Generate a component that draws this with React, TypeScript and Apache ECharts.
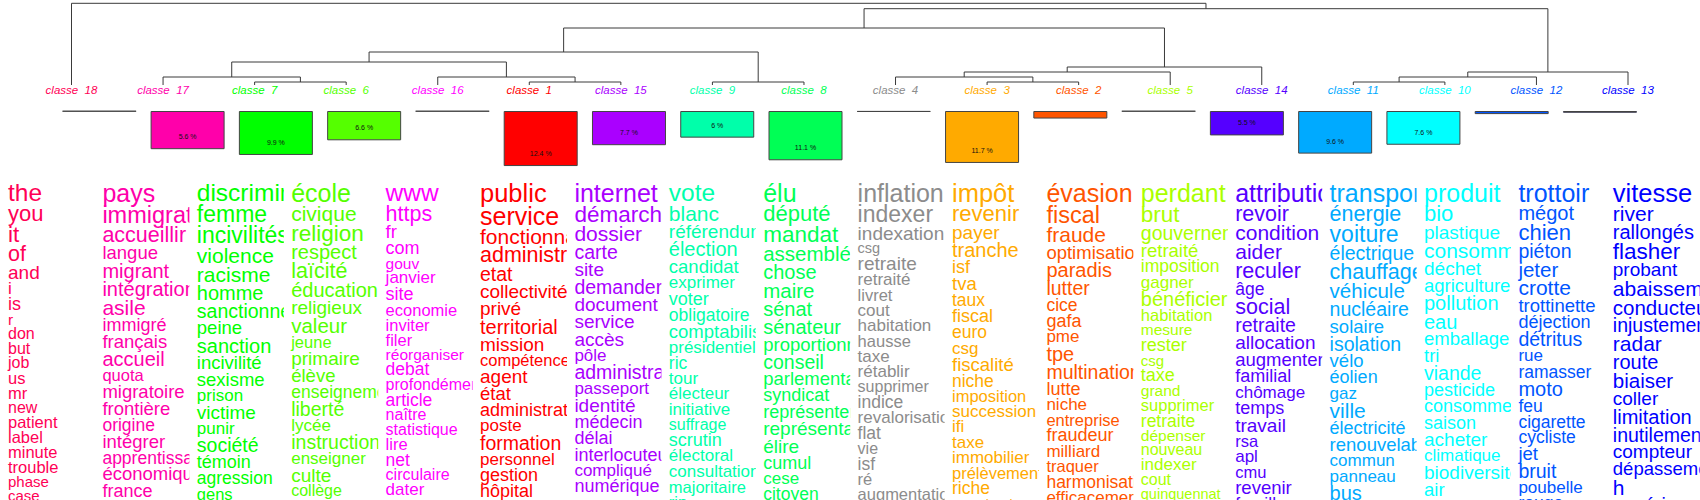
import * as echarts from 'echarts';
import { useEffect, useRef } from 'react';

// leaf order of the dendrogram (left to right)
const leafClasses = [18, 17, 7, 6, 16, 1, 15, 9, 8, 4, 3, 2, 5, 14, 11, 10, 12, 13];

// hclust-style merges: negative = class number, positive = merge step (1-based)
const mergeLeft = [-7, -17, -1, -16, 2, -9, 5, -3, -4, 9, 10, 7, -11, 13, 14, 12, -18];
const mergeRight = [-6, 1, -15, 3, 4, -8, 6, -2, 8, -5, -14, 11, -10, -12, -13, 15, 16];
const mergeHeight = [3, 8, 3, 8, 23, 3, 33, 3, 8, 13, 18, 57, 3, 8, 13, 76.3, 81.7];

// bar heights (share of segments) and the printed percentages, in leaf order
const classShare = [0.1, 8.6, 9.9, 6.6, 0.1, 12.4, 7.7, 6.0, 11.1, 0.2, 11.7, 1.7, 0.1, 5.5, 9.6, 7.6, 0.7, 0.4];
const shareLabels = ['', '5.6 %', '9.9 %', '6.6 %', '', '12.4 %', '7.7 %', '6 %', '11.1 %', '', '11.7 %', '', '', '5.5 %', '9.6 %', '7.6 %', '', ''];

// words of each class, with their weight (font size in px)
const words18 = ['the', 'you', 'it', 'of', 'and', 'i', 'is', 'r', 'don', 'but', 'job', 'us', 'mr', 'new', 'patient', 'label', 'minute', 'trouble', 'phase', 'case'];
const weight18 = [24.5, 22, 22.5, 21.5, 19, 17, 18, 15.5, 16, 16, 16, 16.5, 16.5, 16, 16.5, 16.5, 16.5, 16.5, 15, 15];
const words17 = ['pays', 'immigration', 'accueillir', 'langue', 'migrant', 'intégration', 'asile', 'immigré', 'français', 'accueil', 'quota', 'migratoire', 'frontière', 'origine', 'intégrer', 'apprentissage', 'économique', 'france'];
const weight17 = [25, 23.5, 21.5, 18.5, 20, 20, 21, 18, 18.5, 20, 16.5, 18.5, 18.5, 17.5, 18.5, 17.5, 18.5, 18];
const words7 = ['discrimination', 'femme', 'incivilités', 'violence', 'racisme', 'homme', 'sanctionner', 'peine', 'sanction', 'incivilité', 'sexisme', 'prison', 'victime', 'punir', 'société', 'témoin', 'agression', 'gens'];
const weight7 = [24.5, 23, 23, 21, 21, 20, 19.5, 18.5, 20, 18.5, 18.5, 17, 19, 17, 19.5, 18, 17.5, 16.5];
const words6 = ['école', 'civique', 'religion', 'respect', 'laïcité', 'éducation', 'religieux', 'valeur', 'jeune', 'primaire', 'élève', 'enseignement', 'liberté', 'lycée', 'instruction', 'enseigner', 'culte', 'collège'];
const weight6 = [25, 21, 22.5, 20, 21.5, 20, 19, 20.5, 16.5, 19, 18.5, 17.5, 19.5, 17, 19.5, 17, 19, 16];
const words16 = ['www', 'https', 'fr', 'com', 'gouv', 'janvier', 'site', 'economie', 'inviter', 'filer', 'réorganiser', 'debat', 'profondément', 'article', 'naître', 'statistique', 'lire', 'net', 'circulaire', 'dater'];
const weight16 = [24.5, 21.5, 18.5, 18, 15.5, 17, 18, 16.5, 16.5, 16.5, 15.5, 17.5, 16, 17.5, 16, 16, 16.5, 17.5, 16, 17];
const words1 = ['public', 'service', 'fonctionnaire', 'administration', 'etat', 'collectivité', 'privé', 'territorial', 'mission', 'compétence', 'agent', 'état', 'administratif', 'poste', 'formation', 'personnel', 'gestion', 'hôpital'];
const weight1 = [25.5, 25, 21, 21.5, 19.5, 19, 19, 20, 19, 16.5, 19, 18.5, 18, 17, 19.5, 17, 18, 18];
const words15 = ['internet', 'démarche', 'dossier', 'carte', 'site', 'demander', 'document', 'service', 'accès', 'pôle', 'administration', 'passeport', 'identité', 'médecin', 'délai', 'interlocuteur', 'compliqué', 'numérique'];
const weight15 = [25, 22.5, 21, 19.5, 19, 19.5, 19, 19, 19, 17, 19.5, 17, 19, 18, 18, 18, 17, 18];
const words9 = ['vote', 'blanc', 'référendum', 'élection', 'candidat', 'exprimer', 'voter', 'obligatoire', 'comptabiliser', 'présidentielle', 'ric', 'tour', 'électeur', 'initiative', 'suffrage', 'scrutin', 'électoral', 'consultation', 'majoritaire', 'rip'];
const weight9 = [24.5, 21, 19, 20, 18.5, 17, 18, 17.5, 18.5, 17, 17.5, 17, 17, 17, 16, 18, 17, 17, 16.5, 16.5];
const words8 = ['élu', 'député', 'mandat', 'assemblée', 'chose', 'maire', 'sénat', 'sénateur', 'proportionnelle', 'conseil', 'parlementaire', 'syndicat', 'représenter', 'représentant', 'élire', 'cumul', 'cese', 'citoyen'];
const weight8 = [25, 22, 22.5, 20.5, 20, 20.5, 20, 20, 18.5, 19.5, 18.5, 18, 18, 19, 19, 18, 17, 17.5];
const words4 = ['inflation', 'indexer', 'indexation', 'csg', 'retraite', 'retraité', 'livret', 'cout', 'habitation', 'hausse', 'taxe', 'rétablir', 'supprimer', 'indice', 'revalorisation', 'flat', 'vie', 'isf', 'ré', 'augmentation'];
const weight4 = [25, 23, 19, 14.5, 19, 17, 16.5, 17, 17, 16.5, 17, 17, 16, 17.5, 17, 17.5, 16, 17.5, 16.5, 16.5];
const words3 = ['impôt', 'revenir', 'payer', 'tranche', 'isf', 'tva', 'taux', 'fiscal', 'euro', 'csg', 'fiscalité', 'niche', 'imposition', 'succession', 'ifi', 'taxe', 'immobilier', 'prélèvement', 'riche', 'montant'];
const weight3 = [25.5, 22, 19, 20, 18, 18.5, 17.5, 18, 17.5, 17, 18.5, 17.5, 16.5, 17, 17, 17, 17, 16.5, 17.5, 17];
const words2 = ['évasion', 'fiscal', 'fraude', 'optimisation', 'paradis', 'lutter', 'cice', 'gafa', 'pme', 'tpe', 'multinationale', 'lutte', 'niche', 'entreprise', 'fraudeur', 'milliard', 'traquer', 'harmonisation', 'efficacement'];
const weight2 = [25, 23.5, 21, 18.5, 20, 19.5, 17.5, 18, 17, 20, 19.5, 18, 17, 16.5, 18, 17, 16.5, 17.5, 17];
const words5 = ['perdant', 'brut', 'gouvernement', 'retraité', 'imposition', 'gagner', 'bénéficier', 'habitation', 'mesure', 'rester', 'csg', 'taxe', 'grand', 'supprimer', 'retraite', 'dépenser', 'nouveau', 'indexer', 'cout', 'quinquennat'];
const weight5 = [25, 22.5, 19.5, 18.5, 17.5, 17, 20, 16.5, 15.5, 18, 15, 18, 15.5, 16.5, 17.5, 15.5, 16, 17, 16, 14.5];
const words14 = ['attribution', 'revoir', 'condition', 'aider', 'reculer', 'âge', 'social', 'retraite', 'allocation', 'augmenter', 'familial', 'chômage', 'temps', 'travail', 'rsa', 'apl', 'cmu', 'revenir', 'famille'];
const weight14 = [25, 21.5, 21, 21, 21.5, 17.5, 21.5, 19.5, 19, 18.5, 18, 17, 18, 19, 16.5, 17, 16.5, 18.5, 17.5];
const words11 = ['transport', 'énergie', 'voiture', 'électrique', 'chauffage', 'véhicule', 'nucléaire', 'solaire', 'isolation', 'vélo', 'éolien', 'gaz', 'ville', 'électricité', 'renouvelable', 'commun', 'panneau', 'bus'];
const weight11 = [25, 21.5, 23, 19.5, 21.5, 20.5, 19.5, 18.5, 19.5, 18.5, 18, 17, 21, 18, 18.5, 17, 17, 20];
const words10 = ['produit', 'bio', 'plastique', 'consommation', 'déchet', 'agriculture', 'pollution', 'eau', 'emballage', 'tri', 'viande', 'pesticide', 'consommer', 'saison', 'acheter', 'climatique', 'biodiversité', 'air'];
const weight10 = [25, 22, 19, 21, 19, 18.5, 20, 20, 18.5, 18.5, 19.5, 18, 18, 18, 19, 17, 19, 18.5];
const words12 = ['trottoir', 'mégot', 'chien', 'piéton', 'jeter', 'crotte', 'trottinette', 'déjection', 'détritus', 'rue', 'ramasser', 'moto', 'feu', 'cigarette', 'cycliste', 'jet', 'bruit', 'poubelle', 'rouge'];
const weight12 = [25, 20, 22, 19.5, 20.5, 21, 18.5, 18, 19.5, 17, 17.5, 20, 17.5, 17.5, 17.5, 18.5, 19.5, 17, 17.5];
const words13 = ['vitesse', 'river', 'rallongés', 'flasher', 'probant', 'abaissement', 'conducteur', 'injustement', 'radar', 'route', 'biaiser', 'coller', 'limitation', 'inutilement', 'compteur', 'dépassement', 'h', 'expérimentation'];
const weight13 = [25.5, 21, 20, 22.5, 19, 21, 20.5, 19.5, 21, 20, 20.5, 19, 20, 19.5, 19, 18.5, 21, 19.5];

const columnWords = [words18, words17, words7, words6, words16, words1, words15, words9, words8, words4, words3, words2, words5, words14, words11, words10, words12, words13];
const columnWeights = [weight18, weight17, weight7, weight6, weight16, weight1, weight15, weight9, weight8, weight4, weight3, weight2, weight5, weight14, weight11, weight10, weight12, weight13];

const classColor: Record<number, string> = {
  1: '#FF0000', 2: '#FF5500', 3: '#FFAA00', 4: '#8C8C8C', 5: '#AAFF00', 6: '#55FF00',
  7: '#00FF00', 8: '#00FF55', 9: '#00FFAA', 10: '#00FFFF', 11: '#00AAFF', 12: '#0055FF',
  13: '#0000FF', 14: '#5500FF', 15: '#AA00FF', 16: '#FF00FF', 17: '#FF00AA', 18: '#FF0055'
};

const FONT = '"Liberation Sans", Arial, Helvetica, sans-serif';
const COL_LEFT = 8;
const COL_STEP = 94.4;
const COL_CLIP = 87;
const FIRST_BASELINE = 201.5;
const LINE_FACTOR = 0.91;

function dendrogramSegments() {
  const nodeX: number[] = [];
  const nodeH: number[] = [];
  const pos = (ref: number) => (ref < 0 ? leafClasses.indexOf(-ref) : nodeX[ref - 1]);
  const hgt = (ref: number) => (ref < 0 ? 0 : nodeH[ref - 1]);
  return mergeHeight.map((h, i) => {
    const l = mergeLeft[i];
    const r = mergeRight[i];
    const seg = [pos(l), hgt(l), pos(r), hgt(r), h];
    nodeX.push((pos(l) + pos(r)) / 2);
    nodeH.push(h);
    return seg;
  });
}

function wordElements() {
  const elements: any[] = [];
  leafClasses.forEach((cls, i) => {
    const left = COL_LEFT + COL_STEP * i;
    const words = columnWords[i];
    const weights = columnWeights[i];
    let baseline = FIRST_BASELINE;
    words.forEach((w, k) => {
      if (k > 0) baseline += LINE_FACTOR * weights[k];
      elements.push({
        type: 'text',
        x: left,
        y: baseline - 0.347 * weights[k],
        z: 10 + 2 * i,
        silent: true,
        style: {
          text: w,
          fontSize: weights[k],
          fontFamily: FONT,
          fill: classColor[cls],
          align: 'left',
          verticalAlign: 'middle'
        }
      });
    });
    // white mask cuts the words at the column's right edge
    elements.push({
      type: 'rect',
      z: 11 + 2 * i,
      silent: true,
      shape: { x: left + COL_CLIP, y: 172, width: 1800, height: 340 },
      style: { fill: '#ffffff' }
    });
  });
  return elements;
}

export default function App() {
  const elRef = useRef<HTMLDivElement | null>(null);

  useEffect(() => {
    document.body.style.margin = '0';
    if (!elRef.current) return;
    const chart = echarts.init(elRef.current, undefined, { renderer: 'svg' });

    const leafLabels = leafClasses.map((c) => `classe  ${c}`);

    chart.setOption({
      animation: false,
      backgroundColor: '#ffffff',
      grid: [
        { left: 71.5, right: 72, top: 3.3, height: 81.7 },
        { left: 55.2, right: 55.9, top: 111, height: 88.8 }
      ],
      xAxis: [
        { type: 'value', gridIndex: 0, min: 0, max: 17, show: false, position: 'top' },
        {
          type: 'category',
          gridIndex: 0,
          data: leafLabels,
          boundaryGap: false,
          position: 'bottom',
          axisLine: { show: false },
          axisTick: { show: false },
          splitLine: { show: false },
          axisLabel: {
            interval: 0,
            margin: 4.5,
            verticalAlign: 'middle',
            fontSize: 11.5,
            fontStyle: 'italic',
            fontFamily: FONT,
            color: (_v: any, idx: number) => classColor[leafClasses[idx]]
          }
        },
        { type: 'category', gridIndex: 1, data: leafLabels, show: false }
      ],
      yAxis: [
        { type: 'value', gridIndex: 0, min: 0, max: 81.7, show: false },
        { type: 'value', gridIndex: 1, min: 0, max: 20, inverse: true, show: false }
      ],
      series: [
        {
          type: 'custom',
          xAxisIndex: 0,
          yAxisIndex: 0,
          clip: false,
          silent: true,
          encode: { x: [0, 2], y: [1, 3, 4] },
          data: dendrogramSegments(),
          renderItem: (_params: any, api: any) => {
            const p1 = api.coord([api.value(0), api.value(1)]);
            const p2 = api.coord([api.value(0), api.value(4)]);
            const p3 = api.coord([api.value(2), api.value(4)]);
            const p4 = api.coord([api.value(2), api.value(3)]);
            return {
              type: 'polyline',
              shape: { points: [p1, p2, p3, p4] },
              style: { stroke: '#3a3a3a', lineWidth: 1, fill: 'none' }
            };
          }
        },
        {
          type: 'bar',
          xAxisIndex: 2,
          yAxisIndex: 1,
          barWidth: 74,
          silent: true,
          data: classShare.map((v, i) => ({ value: v, itemStyle: { color: classColor[leafClasses[i]] } })),
          itemStyle: { borderColor: '#444444', borderWidth: 1 },
          label: {
            show: true,
            position: 'insideBottom',
            distance: 9,
            fontSize: 7,
            color: '#111111',
            fontFamily: FONT,
            formatter: (p: any) => shareLabels[p.dataIndex]
          }
        }
      ],
      graphic: { elements: wordElements() }
    } as any);

    return () => {
      chart.dispose();
    };
  }, []);

  return <div ref={elRef} style={{ width: 1700, height: 500 }} />;
}
